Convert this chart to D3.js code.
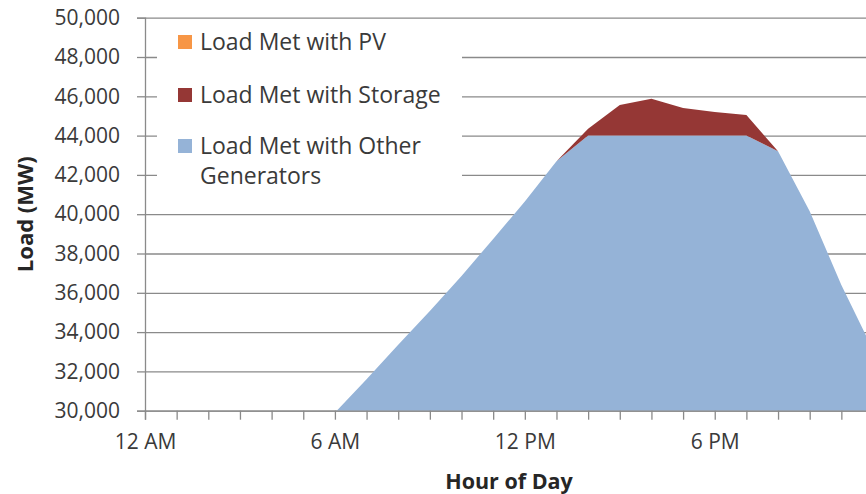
<!DOCTYPE html>
<html>
<head>
<meta charset="utf-8">
<script src="https://cdn.jsdelivr.net/npm/d3@7"></script>
<style>
  html, body { margin: 0; padding: 0; background: #fff; }
  svg { display: block; }
</style>
</head>
<body>
<svg id="chart" width="866" height="494"></svg>
<script>
// Hourly load profile (MW), stacked: other generators, storage, PV
const hours = [0, 1, 2, 3, 4, 5, 6, 7, 8, 9, 10, 11, 12, 13, 14, 15, 16, 17, 18, 19, 20, 21, 22, 23];
const otherGenerators = [27600, 26600, 25900, 25600, 25800, 27000, 29900, 31600, 33350, 35080, 36860, 38740,
                         40650, 42700, 44000, 44000, 44000, 44000, 44000, 44000, 43200, 40150, 36400, 33100];
const storage = [0, 0, 0, 0, 0, 0, 0, 0, 0, 0, 0, 0,
                 0, 0, 350, 1560, 1870, 1400, 1200, 1050, 0, 0, 0, 0];
const pv = [0, 0, 0, 0, 0, 0, 0, 0, 0, 0, 0, 0,
            0, 0, 0, 0, 0, 0, 0, 0, 0, 0, 0, 0];

const yTicks = [30000, 32000, 34000, 36000, 38000, 40000, 42000, 44000, 46000, 48000, 50000];
const xTickLabels = ["12 AM", "6 AM", "12 PM", "6 PM"];
const xLabelHours = [0, 6, 12, 18];

const seriesNames = ["Load Met with Other Generators", "Load Met with Storage", "Load Met with PV"];
const seriesColors = ["#95b3d7", "#953735", "#f79646"];

const svg = d3.select("#chart");
const plot = { left: 145, right: 873, top: 17.7, bottom: 410.7 };

const x = d3.scaleLinear().domain([0, 23]).range([plot.left, plot.right]);
const y = d3.scaleLinear().domain([30000, 50000]).range([plot.bottom, plot.top]);

const font = "'Open Sans', 'Liberation Sans', sans-serif";

// gridlines
svg.append("g")
  .attr("transform", `translate(${plot.left},0)`)
  .call(d3.axisLeft(y).tickValues(yTicks).tickSize(-(plot.right - plot.left)).tickFormat(""))
  .call(g => g.select(".domain").remove())
  .call(g => g.selectAll("line").attr("stroke", "#8a8a8a").attr("stroke-width", 1.3));

// stacked areas
const table = hours.map((h, i) => ({ hour: h, other: otherGenerators[i], storage: storage[i], pv: pv[i] }));
const stack = d3.stack().keys(["other", "storage", "pv"]);
const layers = stack(table);

svg.append("defs").append("clipPath").attr("id", "plotClip")
  .append("rect")
  .attr("x", plot.left).attr("y", plot.top)
  .attr("width", plot.right - plot.left).attr("height", plot.bottom - plot.top);

const area = d3.area()
  .x(d => x(d.data.hour))
  .y0(d => y(d[0]))
  .y1(d => y(d[1]));

svg.append("g").attr("clip-path", "url(#plotClip)")
  .selectAll("path")
  .data(layers)
  .join("path")
  .attr("d", area)
  .attr("fill", (d, i) => seriesColors[i]);

// y axis
const yAxis = svg.append("g")
  .attr("transform", `translate(${plot.left},0)`)
  .call(d3.axisLeft(y).tickValues(yTicks).tickSize(8).tickPadding(17).tickFormat(d3.format(",")));
yAxis.select(".domain").attr("stroke", "#8a8a8a").attr("stroke-width", 1.3);
yAxis.selectAll(".tick line").attr("stroke", "#8a8a8a").attr("stroke-width", 1.3);
yAxis.selectAll("text").attr("font-family", font).attr("font-size", 21).attr("fill", "#3a3a3a");

// x axis
const xAxis = svg.append("g")
  .attr("transform", `translate(0,${plot.bottom})`)
  .call(d3.axisBottom(x).tickValues(hours).tickSize(9).tickPadding(14)
    .tickFormat(h => { const k = xLabelHours.indexOf(h); return k >= 0 ? xTickLabels[k] : ""; }));
xAxis.select(".domain").attr("stroke", "#8a8a8a").attr("stroke-width", 1.3);
xAxis.selectAll(".tick line").attr("stroke", "#8a8a8a").attr("stroke-width", 1.3);
xAxis.selectAll("text").attr("font-family", font).attr("font-size", 21).attr("fill", "#3a3a3a");

// axis titles
svg.append("text")
  .attr("x", 509).attr("y", 481).attr("dy", "0.35em")
  .attr("text-anchor", "middle")
  .attr("font-family", font).attr("font-weight", "bold").attr("font-size", 21.5).attr("fill", "#262626")
  .text("Hour of Day");

svg.append("text")
  .attr("transform", `translate(25,${(plot.top + plot.bottom) / 2}) rotate(-90)`)
  .attr("dy", "0.35em")
  .attr("text-anchor", "middle")
  .attr("font-family", font).attr("font-weight", "bold").attr("font-size", 22).attr("fill", "#262626")
  .text("Load (MW)");

// legend (top entry is the top of the stack)
const legend = svg.append("g");
legend.append("rect")
  .attr("x", 157).attr("y", 25).attr("width", 305).attr("height", 175)
  .attr("fill", "#fff");

const legendRows = [
  { idx: 2, lines: ["Load Met with PV"], y: 42 },
  { idx: 1, lines: ["Load Met with Storage"], y: 95 },
  { idx: 0, lines: ["Load Met with Other", "Generators"], y: 146 }
];
legendRows.forEach(r => {
  legend.append("rect")
    .attr("x", 178).attr("y", r.y - 7).attr("width", 14).attr("height", 14)
    .attr("fill", seriesColors[r.idx]);
  const t = legend.append("text")
    .attr("font-family", font).attr("font-size", 23).attr("fill", "#3a3a3a");
  r.lines.forEach((ln, j) => {
    t.append("tspan").attr("x", 200).attr("y", r.y + j * 30).attr("dy", "0.35em").text(ln);
  });
});
</script>
</body>
</html>
